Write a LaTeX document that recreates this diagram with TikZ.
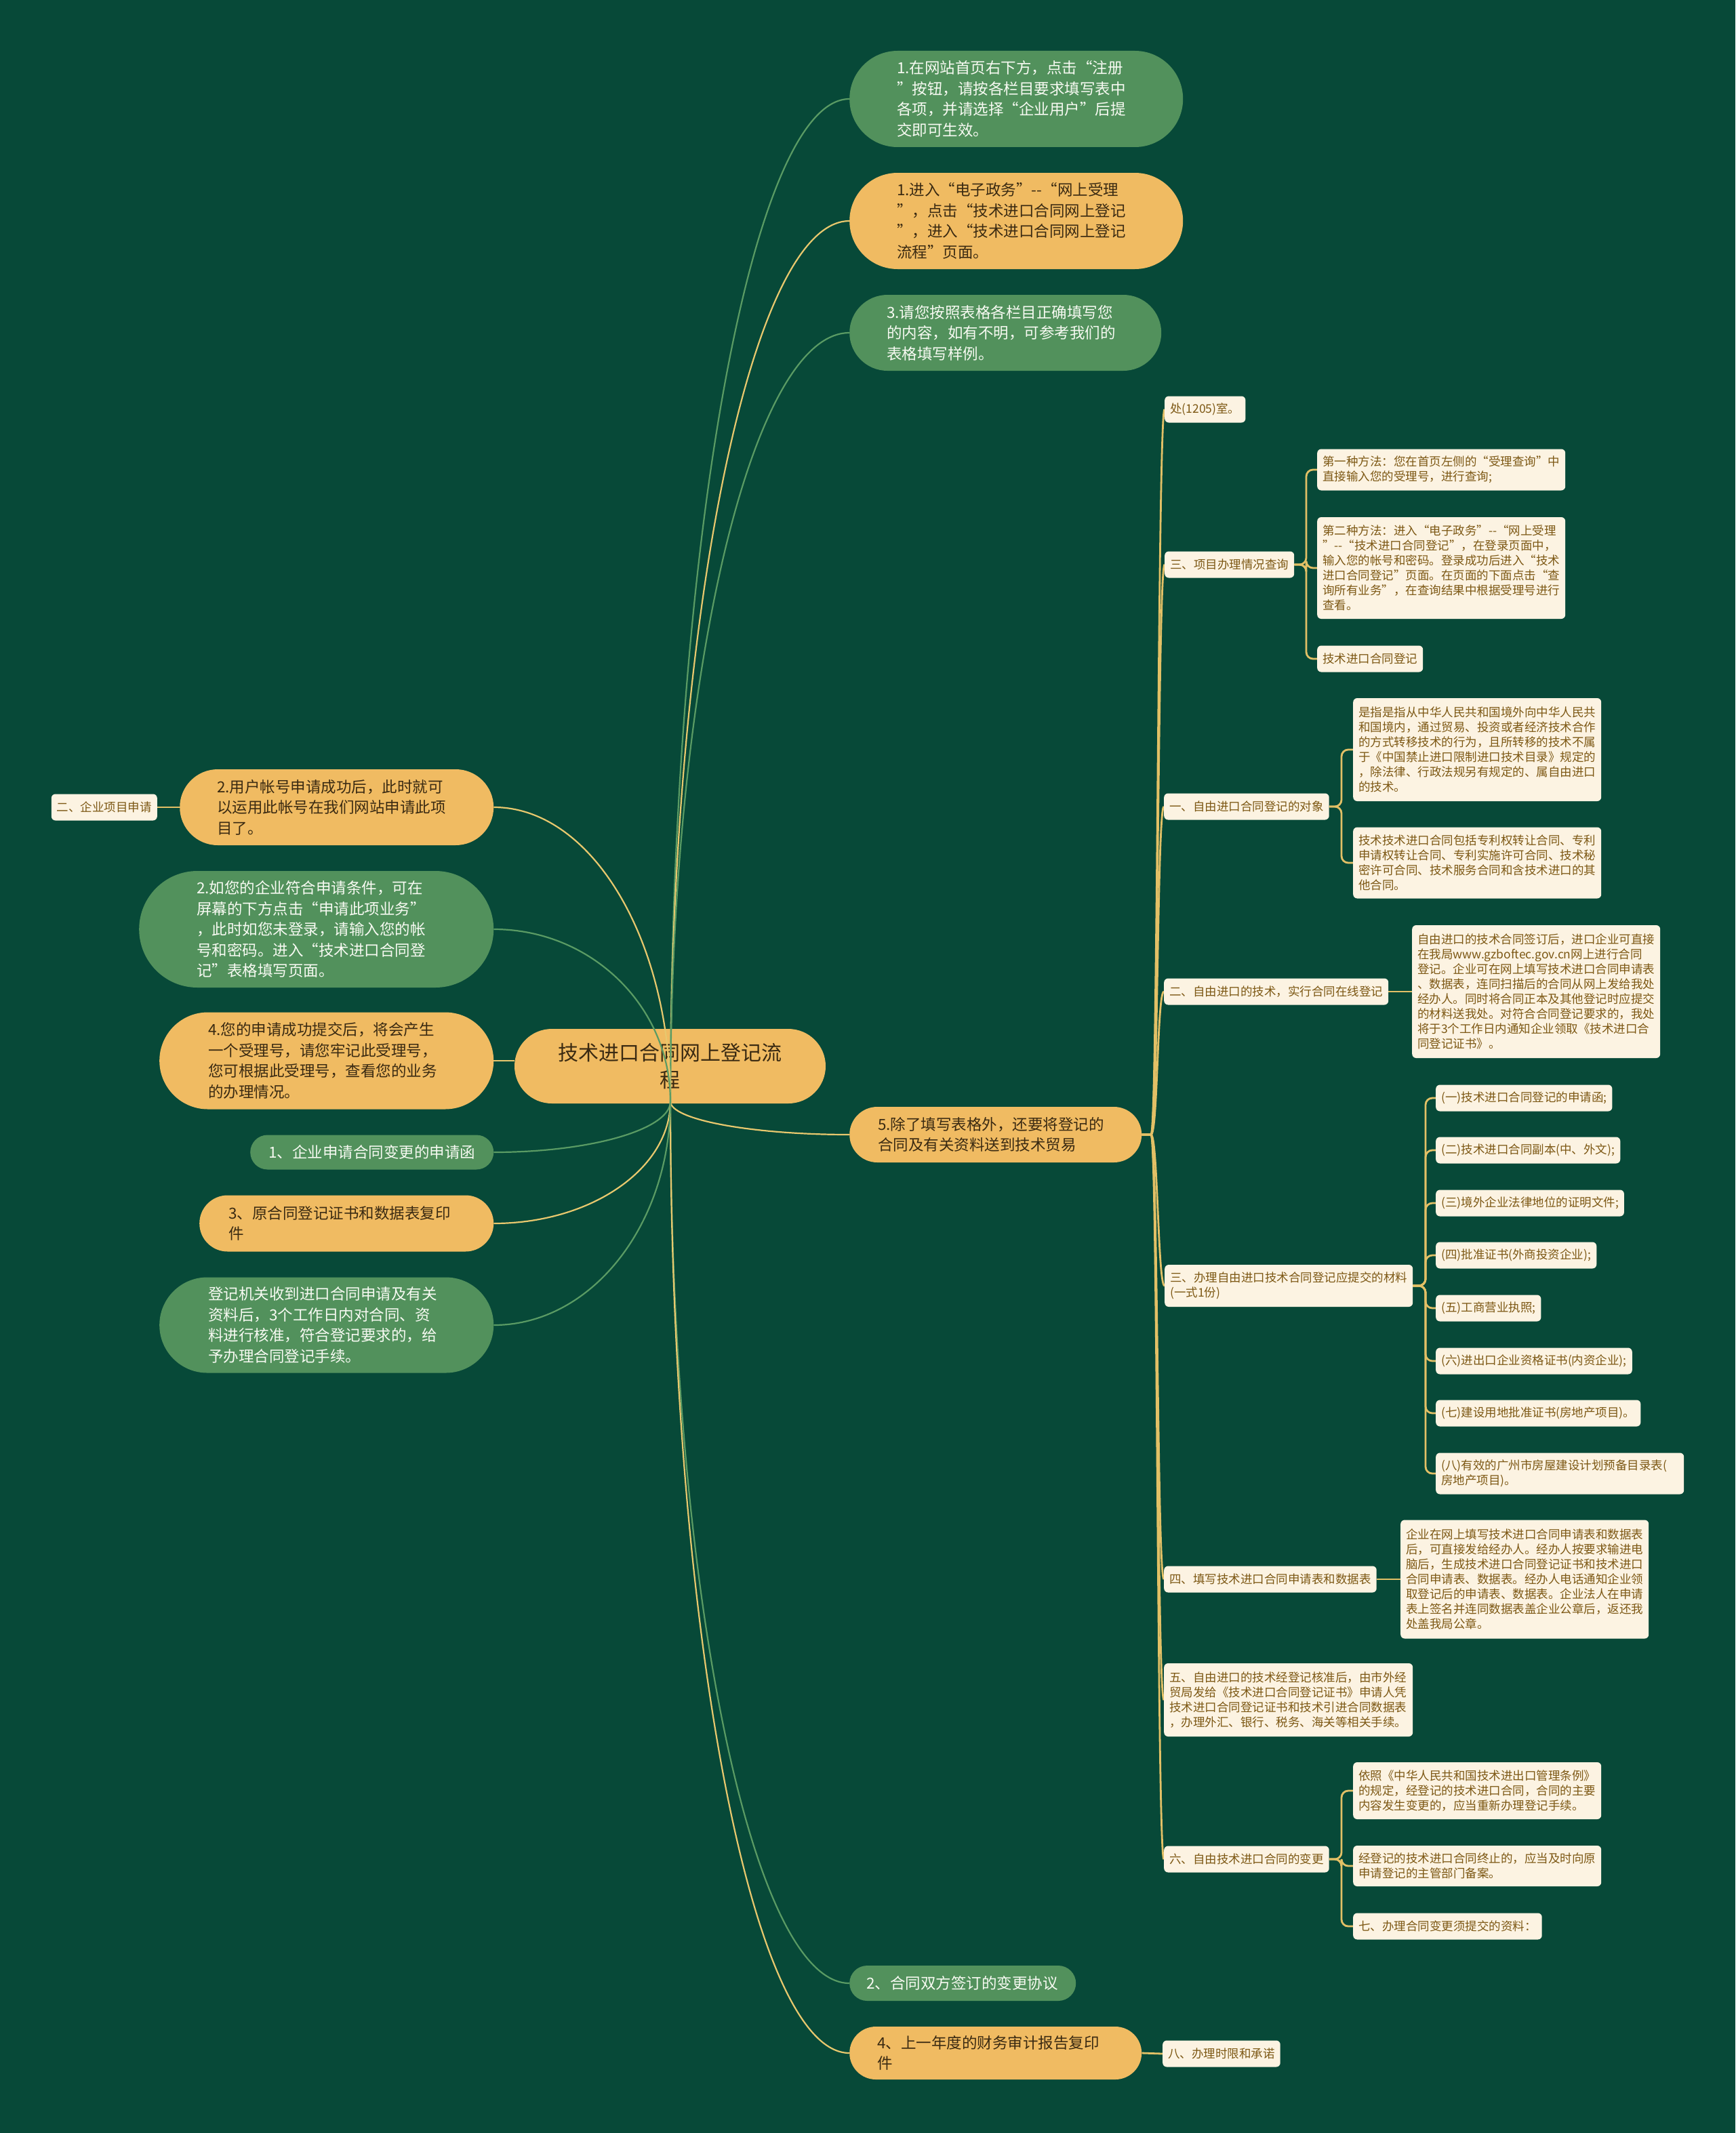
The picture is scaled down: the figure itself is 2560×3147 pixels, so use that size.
\documentclass[tikz,border=0pt]{standalone}
\usepackage{fontspec}
\setmainfont{Noto Sans CJK SC}
\newcommand{\mybubfont}{\fontsize{22.5pt}{30.5pt}\selectfont}
\newcommand{\mycfont}{\fontsize{17.5pt}{22pt}\selectfont}
\newcommand{\myrootfont}{\fontsize{30pt}{40pt}\selectfont}
\definecolor{bgc}{HTML}{074938}
\definecolor{gfill}{HTML}{52915C}
\definecolor{ofill}{HTML}{F0BB62}
\definecolor{cfill}{HTML}{FCF3E2}
\definecolor{ctext}{HTML}{7D5814}
\definecolor{otext}{HTML}{3A2A12}
\definecolor{gtext}{HTML}{F7FAF2}
\definecolor{yline}{HTML}{E8C86E}
\definecolor{gline}{HTML}{5A9B64}
\definecolor{sline}{HTML}{E2C066}
\pgfdeclarelayer{bglayer}
\pgfdeclarelayer{rootlayer}
\pgfdeclarelayer{connlayer}
\pgfsetlayers{bglayer,rootlayer,connlayer,main}
\tikzset{
  bub/.style={rectangle, anchor=west, align=left, inner ysep=0pt, font=\mybubfont},
  gbub/.style={bub, fill=gfill, text=gtext},
  obub/.style={bub, fill=ofill, text=otext},
  rootn/.style={rectangle, fill=ofill, text=otext, font=\myrootfont, align=center, inner ysep=0pt},
  cnode/.style={rectangle, rounded corners=6pt, fill=cfill, text=ctext, font=\mycfont, align=left, inner xsep=8pt, inner ysep=0pt, minimum height=39pt, anchor=west},
  rooty/.style={draw=yline, line width=2.2pt},
  rootg/.style={draw=gline, line width=2.2pt},
  subl/.style={draw=sline, line width=2.8pt},
  elbow/.style={subl, rounded corners=10pt}
}
\begin{document}
\begin{tikzpicture}[x=1pt,y=-1pt]
\useasboundingbox (0,0) rectangle (2560,3147);
\begin{pgfonlayer}{bglayer}
\fill[bgc] (0,0) rectangle (2560,3147);
\end{pgfonlayer}

\begin{pgfonlayer}{rootlayer}
\node[rootn, text width=360pt, inner xsep=49.5pt, minimum height=110pt, rounded corners=55pt] (root) at (988.5,1573) {技术进口合同网上登记流\\程};
\end{pgfonlayer}
\coordinate (R) at (989,1625);

% right level-1 bubbles
\node[gbub, text width=352pt, inner xsep=70pt, minimum height=142pt, rounded corners=71pt] (A1) at (1253,146) {1.在网站首页右下方，点击“注册\\”按钮，请按各栏目要求填写表中\\各项，并请选择“企业用户”后提\\交即可生效。};
\node[obub, text width=352pt, inner xsep=70pt, minimum height=142pt, rounded corners=71pt] (A2) at (1253,326) {1.进入“电子政务”-{}-“网上受理\\”，点击“技术进口合同网上登记\\”，进入“技术进口合同网上登记\\流程”页面。};
\node[gbub, text width=350pt, inner xsep=55pt, minimum height=112pt, rounded corners=56pt] (A3) at (1253,491) {3.请您按照表格各栏目正确填写您\\的内容，如有不明，可参考我们的\\表格填写样例。};
\node[obub, text width=347pt, inner xsep=42pt, minimum height=82pt, rounded corners=41pt] (A5) at (1253,1674) {5.除了填写表格外，还要将登记的\\合同及有关资料送到技术贸易};
\node[gbub, text width=284pt, inner xsep=25pt, minimum height=52pt, rounded corners=26pt] (B2) at (1253,2926) {2、合同双方签订的变更协议};
\node[obub, text width=349pt, inner xsep=41pt, minimum height=78pt, rounded corners=39pt] (B4) at (1253,3029) {4、上一年度的财务审计报告复印\\件};

% left level-1 bubbles
\node[obub, text width=353pt, inner xsep=55pt, minimum height=112pt, rounded corners=56pt] (L1) at (265,1191) {2.用户帐号申请成功后，此时就可\\以运用此帐号在我们网站申请此项\\目了。};
\node[gbub, text width=353pt, inner xsep=85pt, minimum height=172pt, rounded corners=86pt] (L2) at (205,1371) {2.如您的企业符合申请条件，可在\\屏幕的下方点击“申请此项业务”\\，此时如您未登录，请输入您的帐\\号和密码。进入“技术进口合同登\\记”表格填写页面。};
\node[obub, text width=349pt, inner xsep=72pt, minimum height=143pt, rounded corners=71.5pt] (L3) at (235,1565) {4.您的申请成功提交后，将会产生\\一个受理号，请您牢记此受理号，\\您可根据此受理号，查看您的业务\\的办理情况。};
\node[gbub, text width=305pt, inner xsep=27pt, minimum height=51pt, rounded corners=25.5pt] (L4) at (369,1700) {1、企业申请合同变更的申请函};
\node[obub, text width=348pt, inner xsep=43pt, minimum height=83pt, rounded corners=41.5pt] (L5) at (294,1805) {3、原合同登记证书和数据表复印\\件};
\node[gbub, text width=349pt, inner xsep=72pt, minimum height=141pt, rounded corners=70.5pt] (L6) at (235,1955) {登记机关收到进口合同申请及有关\\资料后，3个工作日内对合同、资\\料进行核准，符合登记要求的，给\\予办理合同登记手续。};
\node[cnode, anchor=east] (Lc) at (232,1191) {二、企业项目申请};

% cream nodes (children of A5)
\node[cnode] (C0) at (1718,604) {处(1205)室。};
\node[cnode] (C1) at (1718,833) {三、项目办理情况查询};
\node[cnode, text width=350pt, minimum height=61pt] (C1a) at (1943,693) {第一种方法：您在首页左侧的“受理查询”中\\直接输入您的受理号，进行查询;};
\node[cnode, text width=350pt, minimum height=150pt] (C1b) at (1943,838) {第二种方法：进入“电子政务”-{}-“网上受理\\”-{}-“技术进口合同登记”，在登录页面中，\\输入您的帐号和密码。登录成功后进入“技术\\进口合同登记”页面。在页面的下面点击“查\\询所有业务”，在查询结果中根据受理号进行\\查看。};
\node[cnode] (C1c) at (1943,972) {技术进口合同登记};

\node[cnode] (C2) at (1717,1190) {一、自由进口合同登记的对象};
\node[cnode, text width=350pt, minimum height=152pt] (C2a) at (1996,1106) {是指是指从中华人民共和国境外向中华人民共\\和国境内，通过贸易、投资或者经济技术合作\\的方式转移技术的行为，且所转移的技术不属\\于《中国禁止进口限制进口技术目录》规定的\\，除法律、行政法规另有规定的、属自由进口\\的技术。};
\node[cnode, text width=350pt, minimum height=105pt] (C2b) at (1996,1273) {技术技术进口合同包括专利权转让合同、专利\\申请权转让合同、专利实施许可合同、技术秘\\密许可合同、技术服务合同和含技术进口的其\\他合同。};

\node[cnode] (C3) at (1717,1463) {二、自由进口的技术，实行合同在线登记};
\node[cnode, text width=350pt, minimum height=196pt] (C3a) at (2083,1463) {自由进口的技术合同签订后，进口企业可直接\\在我局www.gzboftec.gov.cn网上进行合同\\登记。企业可在网上填写技术进口合同申请表\\、数据表，连同扫描后的合同从网上发给我处\\经办人。同时将合同正本及其他登记时应提交\\的材料送我处。对符合合同登记要求的，我处\\将于3个工作日内通知企业领取《技术进口合\\同登记证书》。};

\node[cnode, text width=350pt, minimum height=62pt] (C4) at (1718,1897) {三、办理自由进口技术合同登记应提交的材料\\(一式1份)};
\node[cnode] (C41) at (2118,1620) {(一)技术进口合同登记的申请函;};
\node[cnode] (C42) at (2118,1697) {(二)技术进口合同副本(中、外文);};
\node[cnode] (C43) at (2118,1775) {(三)境外企业法律地位的证明文件;};
\node[cnode] (C44) at (2118,1852) {(四)批准证书(外商投资企业);};
\node[cnode] (C45) at (2118,1930) {(五)工商营业执照;};
\node[cnode] (C46) at (2118,2008) {(六)进出口企业资格证书(内资企业);};
\node[cnode] (C47) at (2118,2085) {(七)建设用地批准证书(房地产项目)。};
\node[cnode, text width=350pt, minimum height=61pt] (C48) at (2118,2174) {(八)有效的广州市房屋建设计划预备目录表(\\房地产项目)。};

\node[cnode] (C5) at (1717,2330) {四、填写技术进口合同申请表和数据表};
\node[cnode, text width=350pt, minimum height=175pt] (C5a) at (2066,2330) {企业在网上填写技术进口合同申请表和数据表\\后，可直接发给经办人。经办人按要求输进电\\脑后，生成技术进口合同登记证书和技术进口\\合同申请表、数据表。经办人电话通知企业领\\取登记后的申请表、数据表。企业法人在申请\\表上签名并连同数据表盖企业公章后，返还我\\处盖我局公章。};

\node[cnode, text width=351pt, minimum height=108pt] (C6) at (1717,2508) {五、自由进口的技术经登记核准后，由市外经\\贸局发给《技术进口合同登记证书》申请人凭\\技术进口合同登记证书和技术引进合同数据表\\，办理外汇、银行、税务、海关等相关手续。};

\node[cnode] (C7) at (1717,2743) {六、自由技术进口合同的变更};
\node[cnode, text width=350pt, minimum height=84pt] (C7a) at (1996,2642) {依照《中华人民共和国技术进出口管理条例》\\的规定，经登记的技术进口合同，合同的主要\\内容发生变更的，应当重新办理登记手续。};
\node[cnode, text width=350pt, minimum height=60pt] (C7b) at (1996,2753) {经登记的技术进口合同终止的，应当及时向原\\申请登记的主管部门备案。};
\node[cnode] (C7c) at (1996,2842) {七、办理合同变更须提交的资料：};

\node[cnode] (B8) at (1715,3030) {八、办理时限和承诺};

% connectors
\coordinate (s5) at (1698,1674);
\coordinate (j1) at (1927,833);
\coordinate (j2) at (1979,1190);
\coordinate (j4) at (2103,1897);
\coordinate (j7) at (1979,2743);
\begin{pgfonlayer}{connlayer}
\draw[rootg] (R) .. controls +(0,-813) and +(-145,0) .. (A1.west);
\draw[rooty] (R) .. controls +(0,-714) and +(-145,0) .. (A2.west);
\draw[rootg] (R) .. controls +(0,-624) and +(-145,0) .. (A3.west);
\draw[rooty] (R) .. controls +(0,27) and +(-145,0) .. (A5.west);
\draw[rootg] (R) .. controls +(0,716) and +(-145,0) .. (B2.west);
\draw[rooty] (R) .. controls +(0,772) and +(-145,0) .. (B4.west);
\draw[rooty] (R) .. controls +(0,-239) and +(144,0) .. (L1.east);
\draw[rootg] (R) .. controls +(0,-140) and +(144,0) .. (L2.east);
\draw[rooty] (L3.east) -- (L3.east -| root.west);
\draw[rootg] (R) .. controls +(0,41) and +(144,0) .. (L4.east);
\draw[rooty] (R) .. controls +(0,99) and +(144,0) .. (L5.east);
\draw[rootg] (R) .. controls +(0,182) and +(144,0) .. (L6.east);

\draw[subl] (L1.west) -- (Lc.east);
\draw[subl] (B4.east) -- (B8.west);

\foreach \c in {C0,C1,C2,C3,C4,C5,C6,C7}{
  \draw[subl] (A5.east) -- (s5) .. controls +(10,0) and +(-10,0) .. (\c.west);
}
\foreach \c in {C1a,C1b,C1c}{\draw[elbow] (C1.east) -- (j1) |- (\c.west);}
\foreach \c in {C2a,C2b}{\draw[elbow] (C2.east) -- (j2) |- (\c.west);}
\foreach \c in {C41,C42,C43,C44,C45,C46,C47,C48}{\draw[elbow] (C4.east) -- (j4) |- (\c.west);}
\foreach \c in {C7a,C7b,C7c}{\draw[elbow] (C7.east) -- (j7) |- (\c.west);}
\draw[subl] (C3.east) -- (C3a.west);
\draw[subl] (C5.east) -- (C5a.west);
\end{pgfonlayer}
\end{tikzpicture}
\end{document}
